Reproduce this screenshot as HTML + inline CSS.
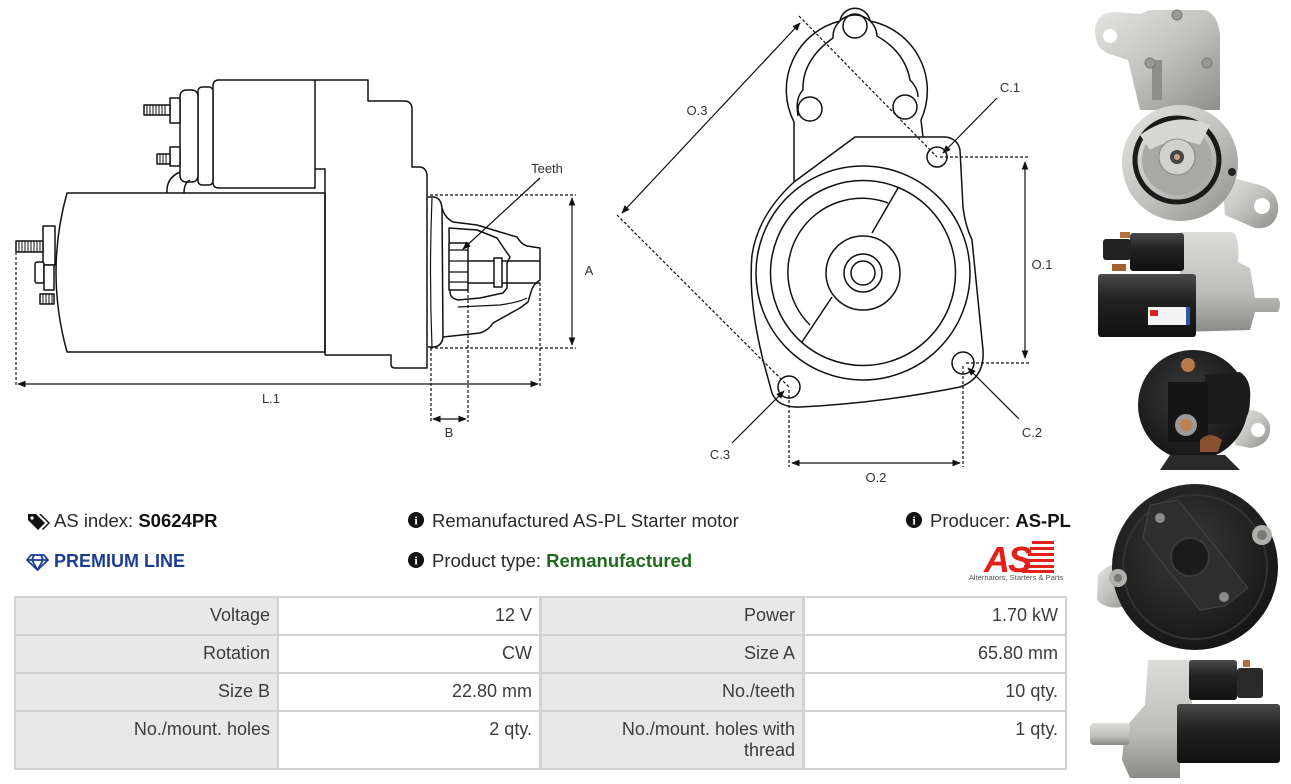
<!DOCTYPE html>
<html><head><meta charset="utf-8">
<style>
html,body{margin:0;padding:0;background:#fff;}
body{width:1291px;height:784px;position:relative;overflow:hidden;font-family:"Liberation Sans",Arial,sans-serif;}
.abs{position:absolute;white-space:nowrap;}
.info{font-size:18.5px;color:#2a2a2a;line-height:22px;}
.tbl{position:absolute;left:14px;top:596px;width:1053px;height:174px;background:#d2d2d2;}
.c{position:absolute;box-sizing:border-box;text-align:right;padding:7px 7px 0 0;font-size:18px;line-height:21px;color:#3c3c3c;}
.l{background:#e8e8e8;}
.v{background:#fff;}
</style></head><body>

<svg class="abs" style="left:0;top:0" width="1291" height="784" viewBox="0 0 1291 784">
<defs>
<marker id="ah" viewBox="0 0 10 10" refX="9" refY="5" markerWidth="7" markerHeight="7" orient="auto-start-reverse"><path d="M0,1 L10,5 L0,9 Z" fill="#111"/></marker>
<linearGradient id="silv" x1="0" y1="0" x2="1" y2="1"><stop offset="0" stop-color="#e4e4e1"/><stop offset="0.5" stop-color="#c2c2bf"/><stop offset="1" stop-color="#8e8e8b"/></linearGradient>
<linearGradient id="silvV" x1="0" y1="0" x2="0" y2="1"><stop offset="0" stop-color="#dcdcd9"/><stop offset="0.6" stop-color="#bdbdba"/><stop offset="1" stop-color="#8a8a87"/></linearGradient>
<linearGradient id="blk" x1="0" y1="0" x2="0" y2="1"><stop offset="0" stop-color="#4a4a4a"/><stop offset="0.4" stop-color="#222"/><stop offset="1" stop-color="#111"/></linearGradient>
<radialGradient id="blkR" cx="0.45" cy="0.4" r="0.6"><stop offset="0" stop-color="#3a3a3a"/><stop offset="1" stop-color="#161616"/></radialGradient>
</defs>

<!-- ===== LEFT DRAWING ===== -->
<g fill="none" stroke="#111" stroke-width="1.5" stroke-linejoin="round">
  <!-- motor body -->
  <path d="M67,193 L325,193 L325,352 L67,352 Q45,272 67,193 Z" fill="#fff"/>
  <!-- solenoid -->
  <path d="M219,80 L315,80 L315,188 L219,188 Q213,188 213,182 L213,86 Q213,80 219,80 Z" fill="#fff"/>
  <rect x="198" y="87" width="15" height="98" rx="4" fill="#fff"/>
  <rect x="180" y="90" width="18" height="92" rx="6" fill="#fff"/>
  <!-- terminals -->
  <rect x="170" y="98" width="10" height="25" fill="#fff"/>
  <rect x="144" y="105" width="26" height="10" fill="#fff"/>
  <path d="M147,105v10M150,105v10M153,105v10M156,105v10M159,105v10M162,105v10M165,105v10" stroke-width="1"/>
  <rect x="170" y="147" width="10" height="19" fill="#fff"/>
  <rect x="157" y="154" width="13" height="10" fill="#fff"/>
  <path d="M160,154v10M163,154v10M166,154v10" stroke-width="1"/>
  <path d="M167,193 Q166,178 180,172 M184,193 Q184,183 190,180"/>
  <!-- housing -->
  <path d="M315,80 L368,80 L368,101 L404,101 Q412,101 412,109 L412,167 L420,167 Q427,168 427,176 L427,368 L395,368 Q391,368 391,364 L391,355 L325,355 M315,169 L325,169 L325,355"/>
  <!-- end cap -->
  <rect x="43" y="226" width="12" height="39" fill="#fff"/>
  <rect x="16" y="241" width="27" height="11" fill="#fff"/>
  <path d="M19,241v11M22,241v11M25,241v11M28,241v11M31,241v11M34,241v11M37,241v11M40,241v11" stroke-width="1"/>
  <rect x="35" y="262" width="9" height="21" rx="2" fill="#fff"/>
  <rect x="44" y="265" width="10" height="25" fill="#fff"/>
  <rect x="40" y="294" width="14" height="10" fill="#fff"/>
  <path d="M43,294v10M46,294v10M49,294v10M52,294v10" stroke-width="1"/>
  <!-- drive flange -->
  <path d="M428,197 L434,197 Q441,198 442,208 L443,337 Q442,346 434,347 L428,347"/>
  <path d="M432,198 Q429,272 432,347" stroke-width="1.2"/>
  <!-- pinion housing -->
  <path d="M442,208 Q445,218 453,222 L477,225 L500,232 L517,237 Q521,244 527,246 L540,248 L540,280 Q533,284 531,292 L528,302 L520,308 L493,323 Q489,330 480,333 L443,337"/>
  <path d="M449,228 L477,230 L497,238 L503,247 L510,257 L507,263 L507,288 L503,293 L480,298 L458,300 Q450,298 450,292 Z"/>
  <path d="M458,307 L500,305 Q520,302 527,298" stroke-width="1.2"/>
  <rect x="449" y="243" width="19" height="47" fill="#fff"/>
  <path d="M449,250h19M449,261h19M449,272h19M449,282h19" stroke-width="1.2"/>
  <path d="M468,261 L540,261 M468,283 L540,283"/>
  <rect x="494" y="258" width="8" height="29" fill="#fff"/>
</g>
<!-- left dims -->
<g fill="none" stroke="#111" stroke-width="1.2" stroke-dasharray="3,2">
  <path d="M430,195 L576,195 M430,348 L576,348"/>
  <path d="M16,252 L16,386 M540,283 L540,386"/>
  <path d="M431,348 L431,422 M468,290 L468,422"/>
</g>
<g fill="none" stroke="#111" stroke-width="1.2">
  <line x1="572" y1="198" x2="572" y2="345" marker-start="url(#ah)" marker-end="url(#ah)"/>
  <line x1="18" y1="384" x2="538" y2="384" marker-start="url(#ah)" marker-end="url(#ah)"/>
  <line x1="433" y1="419" x2="466" y2="419" marker-start="url(#ah)" marker-end="url(#ah)"/>
  <line x1="540" y1="178" x2="463" y2="249" marker-end="url(#ah)"/>
</g>
<g font-family="Liberation Sans, Arial, sans-serif" font-size="13" fill="#333" text-anchor="middle">
  <text x="547" y="173">Teeth</text>
  <text x="589" y="275">A</text>
  <text x="271" y="403">L.1</text>
  <text x="449" y="437">B</text>
</g>

<!-- ===== MIDDLE DRAWING ===== -->
<g fill="none" stroke="#111" stroke-width="1.5" stroke-linejoin="round">
  <path d="M794,182 L794,122 A71,71 0 0 1 840,21 A15.2,15.2 0 0 1 870,21 A71,71 0 0 1 921,120 L923,137"/>
  <path d="M798,116 Q795,98 803,90 Q802,60 833,38 A22,22 0 0 1 877,36 Q905,52 910,80 Q918,88 918,97"/>
  <circle cx="810" cy="109" r="12"/>
  <circle cx="905" cy="107" r="12"/>
  <circle cx="855" cy="26" r="12"/>
  <path d="M855,137 L946,137 Q958,139 960,150 L963,207 Q965,225 972,240 L983,350 Q985,378 960,387 Q880,403 800,407 Q778,408 772,393 L763,360 Q748,300 752,255 Q758,215 794,182 Z" fill="#fff"/>
  <circle cx="863" cy="273" r="107"/>
  <circle cx="863" cy="273" r="92.5"/>
  <path d="M888,203 A74,74 0 0 0 810,325"/>
  <path d="M898,188 L872,233 M832,297 L802,342"/>
  <circle cx="863" cy="273" r="37"/>
  <circle cx="863" cy="273" r="19"/>
  <circle cx="863" cy="273" r="12"/>
  <circle cx="937" cy="157" r="10"/>
  <circle cx="963" cy="363" r="11"/>
  <circle cx="789" cy="387" r="11"/>
</g>
<g fill="none" stroke="#111" stroke-width="1.2" stroke-dasharray="3,2">
  <path d="M940,157 L1029,157 M966,363 L1029,363"/>
  <path d="M789,390 L789,467 M963,366 L963,467"/>
  <path d="M799,16 L937,157 M617,215 L789,387"/>
</g>
<g fill="none" stroke="#111" stroke-width="1.2">
  <line x1="1025" y1="162" x2="1025" y2="358" marker-start="url(#ah)" marker-end="url(#ah)"/>
  <line x1="792" y1="463" x2="960" y2="463" marker-start="url(#ah)" marker-end="url(#ah)"/>
  <line x1="800" y1="23" x2="622" y2="213" marker-start="url(#ah)" marker-end="url(#ah)"/>
  <line x1="997" y1="98" x2="943" y2="153" marker-end="url(#ah)"/>
  <line x1="1019" y1="419" x2="968" y2="368" marker-end="url(#ah)"/>
  <line x1="732" y1="443" x2="784" y2="391" marker-end="url(#ah)"/>
</g>
<g font-family="Liberation Sans, Arial, sans-serif" font-size="13" fill="#333" text-anchor="middle">
  <text x="697" y="115">O.3</text>
  <text x="1010" y="92">C.1</text>
  <text x="1042" y="269">O.1</text>
  <text x="1032" y="437">C.2</text>
  <text x="720" y="459">C.3</text>
  <text x="876" y="482">O.2</text>
</g>

<!-- ===== PHOTOS ===== -->
<!-- photo 1 -->
<g>
  <path d="M1095,28 Q1098,12 1115,12 L1140,14 L1150,10 L1205,10 Q1218,14 1220,35 L1220,110 L1140,110 L1128,60 L1112,55 Q1094,50 1095,28 Z" fill="url(#silv)"/>
  <circle cx="1110" cy="36" r="7" fill="#fff"/>
  <rect x="1152" y="60" width="10" height="40" fill="#8d8d8a"/>
  <circle cx="1177" cy="15" r="5" fill="#9a9a97" stroke="#777"/>
  <circle cx="1150" cy="63" r="5" fill="#9a9a97" stroke="#777"/>
  <circle cx="1207" cy="63" r="5" fill="#9a9a97" stroke="#777"/>
  <path d="M1222,175 L1260,185 Q1280,192 1278,212 Q1274,230 1255,228 L1225,215 Z" fill="url(#silv)"/>
  <circle cx="1262" cy="206" r="8" fill="#fff"/>
  <circle cx="1180" cy="163" r="58" fill="url(#silv)"/>
  <circle cx="1177" cy="160" r="42" fill="none" stroke="#1a1a1a" stroke-width="5"/>
  <circle cx="1177" cy="160" r="35" fill="#a8a8a5"/>
  <path d="M1140,135 Q1175,110 1210,125 L1200,145 Q1175,135 1150,150 Z" fill="#d6d6d3"/>
  <circle cx="1177" cy="157" r="18" fill="#d0d0cd" stroke="#888"/>
  <circle cx="1177" cy="157" r="7" fill="#444"/>
  <circle cx="1177" cy="157" r="3" fill="#c9a080"/>
  <circle cx="1232" cy="172" r="4" fill="#222"/>
</g>
<!-- photo 2 -->
<g>
  <path d="M1180,232 L1232,232 Q1240,235 1238,262 L1250,268 L1255,298 L1278,298 Q1282,304 1278,312 L1255,312 L1250,330 L1180,332 Z" fill="url(#silvV)"/>
  <rect x="1130" y="233" width="54" height="38" rx="3" fill="url(#blk)"/>
  <rect x="1103" y="239" width="28" height="21" rx="3" fill="#222"/>
  <rect x="1120" y="232" width="10" height="6" fill="#b5703a"/>
  <rect x="1112" y="264" width="14" height="7" fill="#a06030"/>
  <rect x="1098" y="274" width="98" height="63" rx="3" fill="url(#blk)"/>
  <rect x="1148" y="307" width="40" height="18" fill="#f4f4f4"/>
  <rect x="1150" y="310" width="8" height="6" fill="#d22"/>
  <rect x="1186" y="307" width="4" height="18" fill="#2a5aa8"/>
</g>
<!-- photo 3 -->
<g>
  <path d="M1238,412 Q1262,405 1270,425 Q1272,445 1250,448 L1235,445 Z" fill="url(#silv)"/>
  <circle cx="1258" cy="430" r="7" fill="#fff"/>
  <circle cx="1193" cy="405" r="55" fill="url(#blkR)"/>
  <path d="M1205,375 L1240,372 Q1252,380 1250,400 Q1250,420 1238,424 L1208,424 Z" fill="#1c1c1c"/>
  <rect x="1168" y="382" width="40" height="60" fill="#151515"/>
  <circle cx="1188" cy="365" r="7" fill="#b87a4a"/>
  <circle cx="1186" cy="425" r="11" fill="#9a9a9a"/>
  <circle cx="1186" cy="425" r="6" fill="#c08050"/>
  <path d="M1200,440 Q1210,430 1222,440 L1218,452 L1200,452 Z" fill="#8a5030"/>
  <path d="M1170,455 L1225,455 L1240,470 L1160,470 Z" fill="#2a2a2a"/>
  <path d="M1098,575 Q1110,560 1130,565 L1130,605 Q1108,612 1097,600 Z" fill="url(#silv)"/>
  <circle cx="1195" cy="567" r="83" fill="url(#blkR)"/>
  <circle cx="1195" cy="567" r="72" fill="none" stroke="#333" stroke-width="2"/>
  <path d="M1150,505 L1178,500 L1248,588 L1225,606 L1200,610 L1143,538 Z" fill="#2e2e2e" stroke="#444"/>
  <circle cx="1190" cy="557" r="19" fill="#1b1b1b" stroke="#3a3a3a" stroke-width="2"/>
  <circle cx="1160" cy="518" r="5" fill="#8a8a8a"/>
  <circle cx="1224" cy="597" r="5" fill="#8a8a8a"/>
  <circle cx="1262" cy="535" r="10" fill="#b0b0ad"/>
  <circle cx="1262" cy="535" r="5" fill="#7a7a77"/>
  <circle cx="1118" cy="578" r="9" fill="#b0b0ad"/>
  <circle cx="1118" cy="578" r="4" fill="#7a7a77"/>
</g>
<!-- photo 4 -->
<g>
  <path d="M1148,660 L1192,660 L1192,706 L1180,706 L1180,778 L1130,778 L1122,760 L1125,728 L1145,705 Z" fill="url(#silvV)"/>
  <rect x="1090" y="723" width="40" height="22" rx="4" fill="url(#silvV)"/>
  <rect x="1189" y="660" width="48" height="40" rx="3" fill="url(#blk)"/>
  <rect x="1237" y="668" width="26" height="30" rx="3" fill="#2a2a2a"/>
  <rect x="1243" y="660" width="7" height="7" fill="#b5703a"/>
  <rect x="1177" y="704" width="103" height="59" rx="3" fill="url(#blk)"/>
</g>

<!-- AS logo -->
<g>
  <text x="984" y="572" font-family="Liberation Sans, Arial, sans-serif" font-size="36" font-weight="bold" font-style="italic" fill="#e32119" letter-spacing="-2">AS</text>
  <g fill="#e32119">
    <rect x="1032" y="541" width="22" height="3"/>
    <rect x="1030" y="547" width="24" height="3"/>
    <rect x="1028" y="553" width="26" height="3"/>
    <rect x="1026" y="559" width="28" height="3"/>
    <rect x="1024" y="565" width="30" height="3"/>
    <rect x="1022" y="570" width="32" height="3"/>
  </g>
  <text x="1016" y="580" font-family="Liberation Sans, Arial, sans-serif" font-size="7.6" fill="#555" text-anchor="middle">Alternators, Starters &amp; Parts</text>
</g>

<!-- icons -->
<g>
  <!-- tags -->
  <path d="M28,514 L36,514 L45,523 L38,530 L28,520 Z" fill="#111"/>
  <circle cx="32" cy="518" r="1.6" fill="#fff"/>
  <path d="M39,514 L41,514 L50,523 L43,530 L42,529 L48,523 Z" fill="#111"/>
  <!-- diamond -->
  <g fill="none" stroke="#1b3d94" stroke-width="1.8" stroke-linejoin="round">
    <path d="M31,555 L44,555 L48,560 L37.5,570 L27,560 Z"/>
    <path d="M27,560 L48,560 M34,555 L32,560 L37.5,570 L43,560 L41,555"/>
  </g>
  <!-- info icons -->
  <circle cx="416" cy="520" r="8" fill="#111"/>
  <circle cx="416" cy="560" r="8" fill="#111"/>
  <circle cx="914" cy="520" r="8" fill="#111"/>
</g>
<g font-family="Liberation Serif, serif" font-weight="bold" font-size="12" fill="#fff" text-anchor="middle">
  <text x="416" y="524.5">i</text>
  <text x="416" y="564.5">i</text>
  <text x="914" y="524.5">i</text>
</g>
</svg>

<!-- info text -->
<div class="abs info" style="left:54px;top:510px;">AS index: <b style="color:#111">S0624PR</b></div>
<div class="abs info" style="left:54px;top:550px;color:#1b3d94;font-weight:bold;font-size:18px;">PREMIUM LINE</div>
<div class="abs info" style="left:432px;top:510px;">Remanufactured AS-PL Starter motor</div>
<div class="abs info" style="left:432px;top:550px;">Product type: <b style="color:#1e6b1e">Remanufactured</b></div>
<div class="abs info" style="left:930px;top:510px;">Producer: <b style="color:#111">AS-PL</b></div>

<!-- table -->
<div class="tbl">
  <div class="c l" style="left:2px;top:2px;width:261px;height:36px;">Voltage</div>
  <div class="c v" style="left:265px;top:2px;width:260px;height:36px;">12 V</div>
  <div class="c l" style="left:528px;top:2px;width:260px;height:36px;">Power</div>
  <div class="c v" style="left:791px;top:2px;width:260px;height:36px;">1.70 kW</div>

  <div class="c l" style="left:2px;top:40px;width:261px;height:36px;">Rotation</div>
  <div class="c v" style="left:265px;top:40px;width:260px;height:36px;">CW</div>
  <div class="c l" style="left:528px;top:40px;width:260px;height:36px;">Size A</div>
  <div class="c v" style="left:791px;top:40px;width:260px;height:36px;">65.80 mm</div>

  <div class="c l" style="left:2px;top:78px;width:261px;height:36px;">Size B</div>
  <div class="c v" style="left:265px;top:78px;width:260px;height:36px;">22.80 mm</div>
  <div class="c l" style="left:528px;top:78px;width:260px;height:36px;">No./teeth</div>
  <div class="c v" style="left:791px;top:78px;width:260px;height:36px;">10 qty.</div>

  <div class="c l" style="left:2px;top:116px;width:261px;height:56px;">No./mount. holes</div>
  <div class="c v" style="left:265px;top:116px;width:260px;height:56px;">2 qty.</div>
  <div class="c l" style="left:528px;top:116px;width:260px;height:56px;">No./mount. holes with<br>thread</div>
  <div class="c v" style="left:791px;top:116px;width:260px;height:56px;">1 qty.</div>
</div>

</body></html>
